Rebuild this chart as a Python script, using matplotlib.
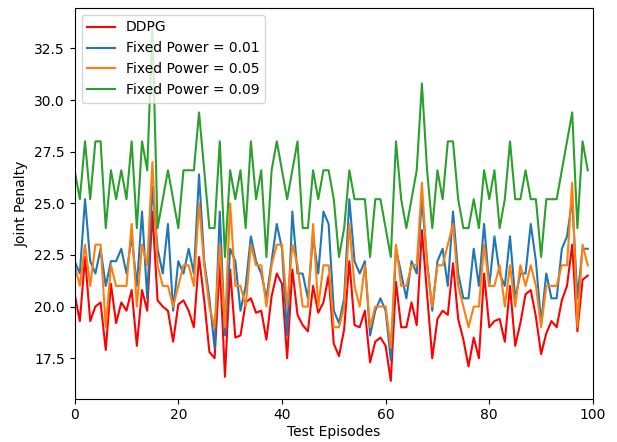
import numpy as np
import matplotlib
matplotlib.use("Agg")
import matplotlib.pyplot as plt


episodes = np.arange(100)

ddpg = [20.6, 19.3, 22.4, 19.3, 20.0, 20.2, 17.9, 21.1, 19.2, 20.2,
        19.8, 20.8, 18.1, 20.8, 19.8, 24.6, 20.3, 20.0, 19.8, 18.3,
        20.1, 20.3, 19.8, 19.0, 22.4, 20.3, 17.8, 17.5, 22.1, 16.6,
        21.8, 18.5, 18.6, 20.2, 20.4, 19.7, 19.8, 18.4, 20.5, 21.6,
        21.1, 17.5, 21.8, 19.6, 19.1, 18.8, 21.0, 19.7, 20.2, 21.5,
        18.2, 17.6, 18.9, 22.2, 19.1, 19.0, 19.8, 17.3, 18.3, 18.5,
        18.1, 16.4, 21.2, 19.0, 19.0, 20.2, 19.1, 23.7, 20.6, 17.5,
        19.4, 19.8, 19.6, 22.1, 19.4, 18.4, 17.1, 18.5, 17.5, 21.6,
        19.0, 19.3, 19.4, 18.3, 21.0, 18.1, 19.2, 20.6, 20.8, 19.5,
        17.7, 18.7, 19.3, 19.0, 20.3, 21.0, 23.0, 18.8, 21.3, 21.5]

fixed_001 = [22.2, 21.6, 25.2, 22.2, 21.6, 22.8, 21.0, 22.2, 22.2, 22.8,
             21.6, 23.4, 21.0, 24.6, 20.4, 25.8, 22.8, 21.6, 24.0, 19.8,
             22.2, 21.6, 22.8, 21.6, 26.4, 22.2, 20.4, 18.0, 24.6, 18.6,
             22.8, 22.2, 19.8, 21.0, 23.4, 22.2, 21.6, 20.4, 22.2, 24.0,
             22.8, 18.6, 24.6, 21.6, 21.6, 20.4, 23.4, 21.6, 24.6, 24.0,
             19.8, 19.2, 20.4, 25.2, 22.2, 21.6, 22.2, 18.6, 19.8, 20.4,
             19.8, 17.4, 22.8, 21.6, 20.4, 22.2, 21.6, 25.2, 22.2, 19.8,
             22.2, 22.8, 21.0, 24.6, 21.6, 20.4, 20.4, 22.8, 21.0, 24.0,
             21.0, 23.4, 21.6, 21.0, 23.4, 20.4, 21.6, 21.6, 24.0, 22.2,
             19.2, 21.6, 20.4, 20.4, 22.8, 23.4, 25.2, 20.4, 22.8, 22.8]

fixed_005 = [22, 21, 23, 21, 23, 23, 19, 22, 21, 21,
             21, 24, 20, 23, 22, 27, 22, 21, 21, 20,
             21, 22, 22, 21, 25, 22, 20, 19, 23, 19,
             25, 21, 21, 20, 23, 22, 22, 20, 22, 23,
             23, 20, 23, 22, 20, 20, 24, 20, 22, 22,
             19, 19, 20, 24, 21, 20, 22, 19, 20, 20,
             20, 18, 23, 21, 21, 22, 22, 26, 22, 20,
             22, 22, 23, 24, 21, 20, 19, 20, 20, 23,
             21, 21, 22, 20, 22, 20, 22, 21, 22, 21,
             19, 21, 21, 21, 22, 22, 26, 19, 23, 22]

fixed_009 = [26.6, 25.2, 28.0, 25.2, 28.0, 28.0, 23.8, 26.6, 25.2, 26.6,
             25.2, 28.0, 23.8, 28.0, 26.6, 33.6, 23.8, 25.2, 26.6, 25.2,
             23.8, 26.6, 26.6, 26.6, 29.4, 26.6, 23.8, 23.8, 28.0, 22.4,
             26.6, 25.2, 26.6, 23.8, 28.0, 25.2, 26.6, 22.4, 26.6, 28.0,
             26.6, 25.2, 26.6, 28.0, 23.8, 23.8, 26.6, 25.2, 26.6, 26.6,
             25.2, 22.4, 23.8, 26.6, 25.2, 25.2, 25.2, 22.4, 25.2, 25.2,
             23.8, 22.4, 28.0, 25.2, 23.8, 25.2, 26.6, 30.8, 26.6, 23.8,
             26.6, 25.2, 28.0, 28.0, 25.2, 23.8, 23.8, 25.2, 23.8, 26.6,
             25.2, 26.6, 23.8, 25.2, 28.0, 25.2, 25.2, 26.6, 25.2, 25.2,
             22.4, 25.2, 25.2, 25.2, 26.6, 28.0, 29.4, 23.8, 28.0, 26.6]


fig, ax = plt.subplots(figsize=(6.17, 4.42), dpi=100)
fig.subplots_adjust(left=0.121, right=0.961, bottom=0.098, top=0.982)

ax.plot(episodes, ddpg, color="red", label="DDPG")
ax.plot(episodes, fixed_001, color="tab:blue", label="Fixed Power = 0.01")
ax.plot(episodes, fixed_005, color="tab:orange", label="Fixed Power = 0.05")
ax.plot(episodes, fixed_009, color="tab:green", label="Fixed Power = 0.09")

ax.set_xlim(0, 100)
ax.set_xlabel("Test Episodes", labelpad=2)
ax.set_ylabel("Joint Penalty")
ax.legend(loc="upper left")

fig.savefig("out.png", dpi=100)
